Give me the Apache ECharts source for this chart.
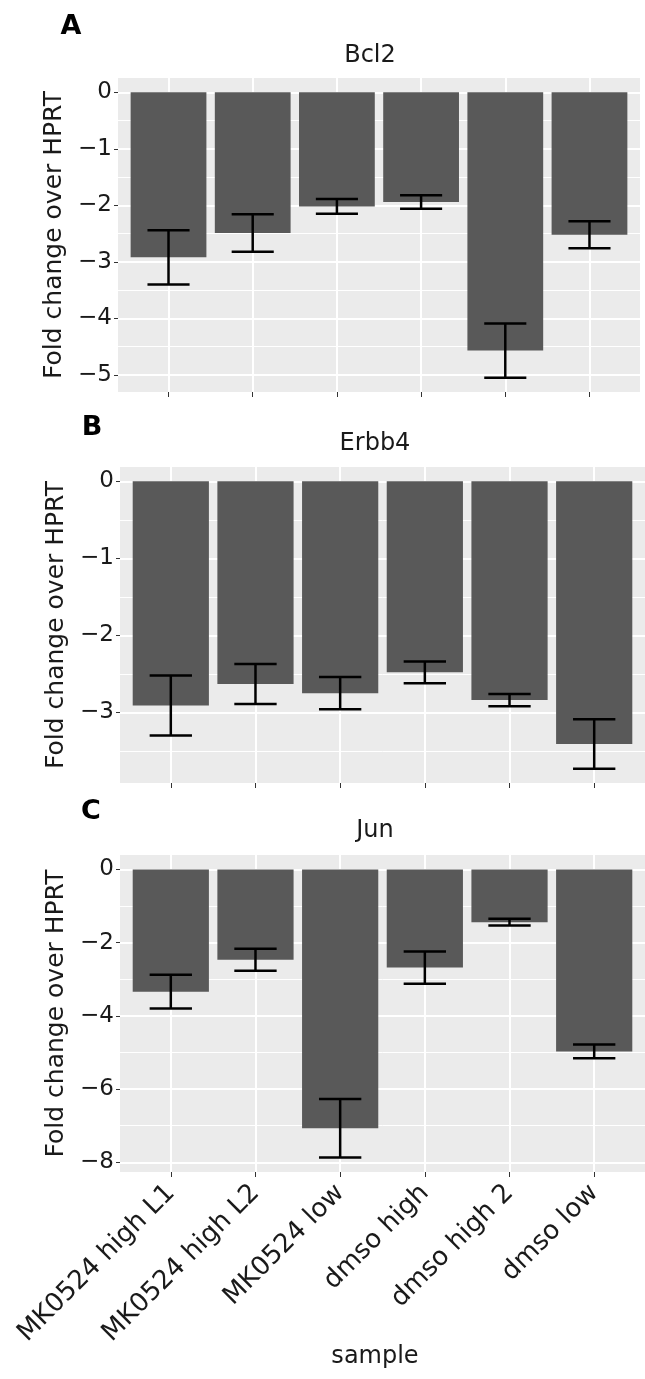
<!DOCTYPE html>
<html>
<head>
<meta charset="utf-8">
<script src="https://cdn.jsdelivr.net/npm/echarts@6.0.0/dist/echarts.min.js"></script>
<style>
  html, body { margin: 0; padding: 0; background: #fff; }
  #chart { width: 645px; height: 1379px; }
</style>
</head>
<body>
<div id="chart"></div>
<script>
// 样本名称
const samples = ['MK0524 high L1', 'MK0524 high L2', 'MK0524 low', 'dmso high', 'dmso high 2', 'dmso low'];

// 各基因的均值和误差
const bcl2Mean = [-2.92, -2.49, -2.02, -1.94, -4.57, -2.52];
const bcl2Err = [0.48, 0.33, 0.13, 0.12, 0.48, 0.24];
const erbb4Mean = [-2.91, -2.63, -2.75, -2.48, -2.84, -3.41];
const erbb4Err = [0.39, 0.26, 0.21, 0.14, 0.08, 0.32];
const junMean = [-3.34, -2.47, -7.07, -2.68, -1.44, -4.97];
const junErr = [0.46, 0.30, 0.80, 0.44, 0.095, 0.19];

// 刻度
const bcl2Ticks = [0, -1, -2, -3, -4, -5];
const bcl2Minor = [-0.5, -1.5, -2.5, -3.5, -4.5];
const erbb4Ticks = [0, -1, -2, -3];
const erbb4Minor = [-0.5, -1.5, -2.5, -3.5];
const junTicks = [0, -2, -4, -6, -8];
const junMinor = [-1, -3, -5, -7];
const xTicks = [0, 1, 2, 3, 4, 5];

const titles = ['Bcl2', 'Erbb4', 'Jun'];
const letters = ['A', 'B', 'C'];

let myChart = echarts.init(document.getElementById('chart'));

let panels = [
    { mean: bcl2Mean, err: bcl2Err, ticks: bcl2Ticks, minor: bcl2Minor },
    { mean: erbb4Mean, err: erbb4Err, ticks: erbb4Ticks, minor: erbb4Minor },
    { mean: junMean, err: junErr, ticks: junTicks, minor: junMinor }
];

// 网格位置
let grids = [
    { left: 118, top: 78, width: 522, height: 314 },
    { left: 120, top: 467, width: 525, height: 316 },
    { left: 120, top: 855, width: 525, height: 317 }
];
// 标题、字母位置
let titlePos = [[370, 56], [375, 444], [375, 831]];
let letterPos = [[71, 27], [92, 428], [91, 812]];

const labelColor = '#1a1a1a';
const fontFamily = 'DejaVu Sans';

function minusFmt(v) {
    return v < 0 ? '\u2212' + Math.abs(v) : String(v);
}

function barItem(params, api) {
    let i = api.value(0), v = api.value(1);
    let a = api.coord([i - 0.45, 0]);
    let b = api.coord([i + 0.45, v]);
    return {
        type: 'rect',
        shape: { x: a[0], y: a[1], width: b[0] - a[0], height: b[1] - a[1] },
        style: { fill: '#595959' }
    };
}

function errItem(params, api) {
    let i = api.value(0), v = api.value(1), e = api.value(2);
    let top = api.coord([i, v + e]);
    let bot = api.coord([i, v - e]);
    let l = api.coord([i - 0.25, v]);
    let r = api.coord([i + 0.25, v]);
    let st = { stroke: '#000', lineWidth: 2.5 };
    return {
        type: 'group',
        children: [
            { type: 'line', shape: { x1: top[0], y1: top[1], x2: bot[0], y2: bot[1] }, style: st },
            { type: 'line', shape: { x1: l[0], y1: top[1], x2: r[0], y2: top[1] }, style: st },
            { type: 'line', shape: { x1: l[0], y1: bot[1], x2: r[0], y2: bot[1] }, style: st }
        ]
    };
}

let xAxis = [], yAxis = [], series = [], graphic = [];

panels.forEach(function (p, k) {
    let lo = Math.min.apply(null, p.mean.map(function (m, i) { return m - p.err[i]; }));
    let span = -lo;
    let yMin = lo - 0.05 * span, yMax = 0.05 * span;

    xAxis.push({
        type: 'value',
        gridIndex: k,
        min: -0.6,
        max: 5.6,
        axisLine: { show: false, onZero: false },
        axisTick: { show: true, length: 5, customValues: xTicks, lineStyle: { color: '#333', width: 1 } },
        axisLabel: {
            show: k === 2,
            customValues: xTicks,
            rotate: 45,
            margin: 17,
            fontSize: 26,
            fontFamily: fontFamily,
            color: labelColor,
            formatter: function (v) { return samples[v]; }
        },
        splitLine: { show: true, lineStyle: { color: '#fff', width: 2 } }
    });

    yAxis.push({
        type: 'value',
        gridIndex: k,
        min: yMin,
        max: yMax,
        axisLine: { show: false, onZero: false },
        axisTick: { show: true, length: 4, customValues: p.ticks, lineStyle: { color: '#333', width: 1 } },
        axisLabel: {
            customValues: p.ticks,
            margin: 6,
            fontSize: 23,
            fontFamily: fontFamily,
            color: labelColor,
            formatter: minusFmt
        },
        splitLine: { show: true, lineStyle: { color: '#fff', width: 2 } },
        name: 'Fold change over HPRT',
        nameLocation: 'middle',
        nameGap: 50,
        nameTextStyle: { fontSize: 25, fontFamily: fontFamily, color: labelColor }
    });

    series.push({
        type: 'custom',
        xAxisIndex: k,
        yAxisIndex: k,
        renderItem: barItem,
        data: p.mean.map(function (m, i) { return [i, m, p.err[i]]; })
    });
    series.push({
        type: 'custom',
        xAxisIndex: k,
        yAxisIndex: k,
        renderItem: errItem,
        z: 5,
        data: p.mean.map(function (m, i) { return [i, m, p.err[i]]; })
    });

    // 标题和字母
    graphic.push({
        type: 'text',
        x: titlePos[k][0],
        y: titlePos[k][1],
        style: { text: titles[k], font: '24px ' + fontFamily, fill: labelColor, textAlign: 'center', textVerticalAlign: 'middle' }
    });
    graphic.push({
        type: 'text',
        x: letterPos[k][0],
        y: letterPos[k][1],
        style: { text: letters[k], font: 'bold 27px ' + fontFamily, fill: '#000', textAlign: 'center', textVerticalAlign: 'middle' }
    });
});

// x轴标题
graphic.push({
    type: 'text',
    x: 375,
    y: 1357,
    style: { text: 'sample', font: '24px ' + fontFamily, fill: labelColor, textAlign: 'center', textVerticalAlign: 'middle' }
});

// 次网格线
panels.forEach(function (p, k) {
    yAxis.push({
        type: 'value',
        gridIndex: k,
        min: yAxis[k].min,
        max: yAxis[k].max,
        position: 'left',
        axisLine: { show: false, onZero: false },
        axisTick: { show: false, customValues: p.minor },
        axisLabel: { show: false, customValues: p.minor },
        splitLine: { show: true, lineStyle: { color: '#fff', width: 1 } }
    });
});

option = {
    animation: false,
    backgroundColor: '#fff',
    grid: grids.map(function (g) {
        return Object.assign({ show: true, backgroundColor: '#EBEBEB', borderWidth: 0, containLabel: false }, g);
    }),
    xAxis: xAxis,
    yAxis: yAxis,
    series: series,
    graphic: graphic
};

myChart.setOption(option);
</script>
</body>
</html>
